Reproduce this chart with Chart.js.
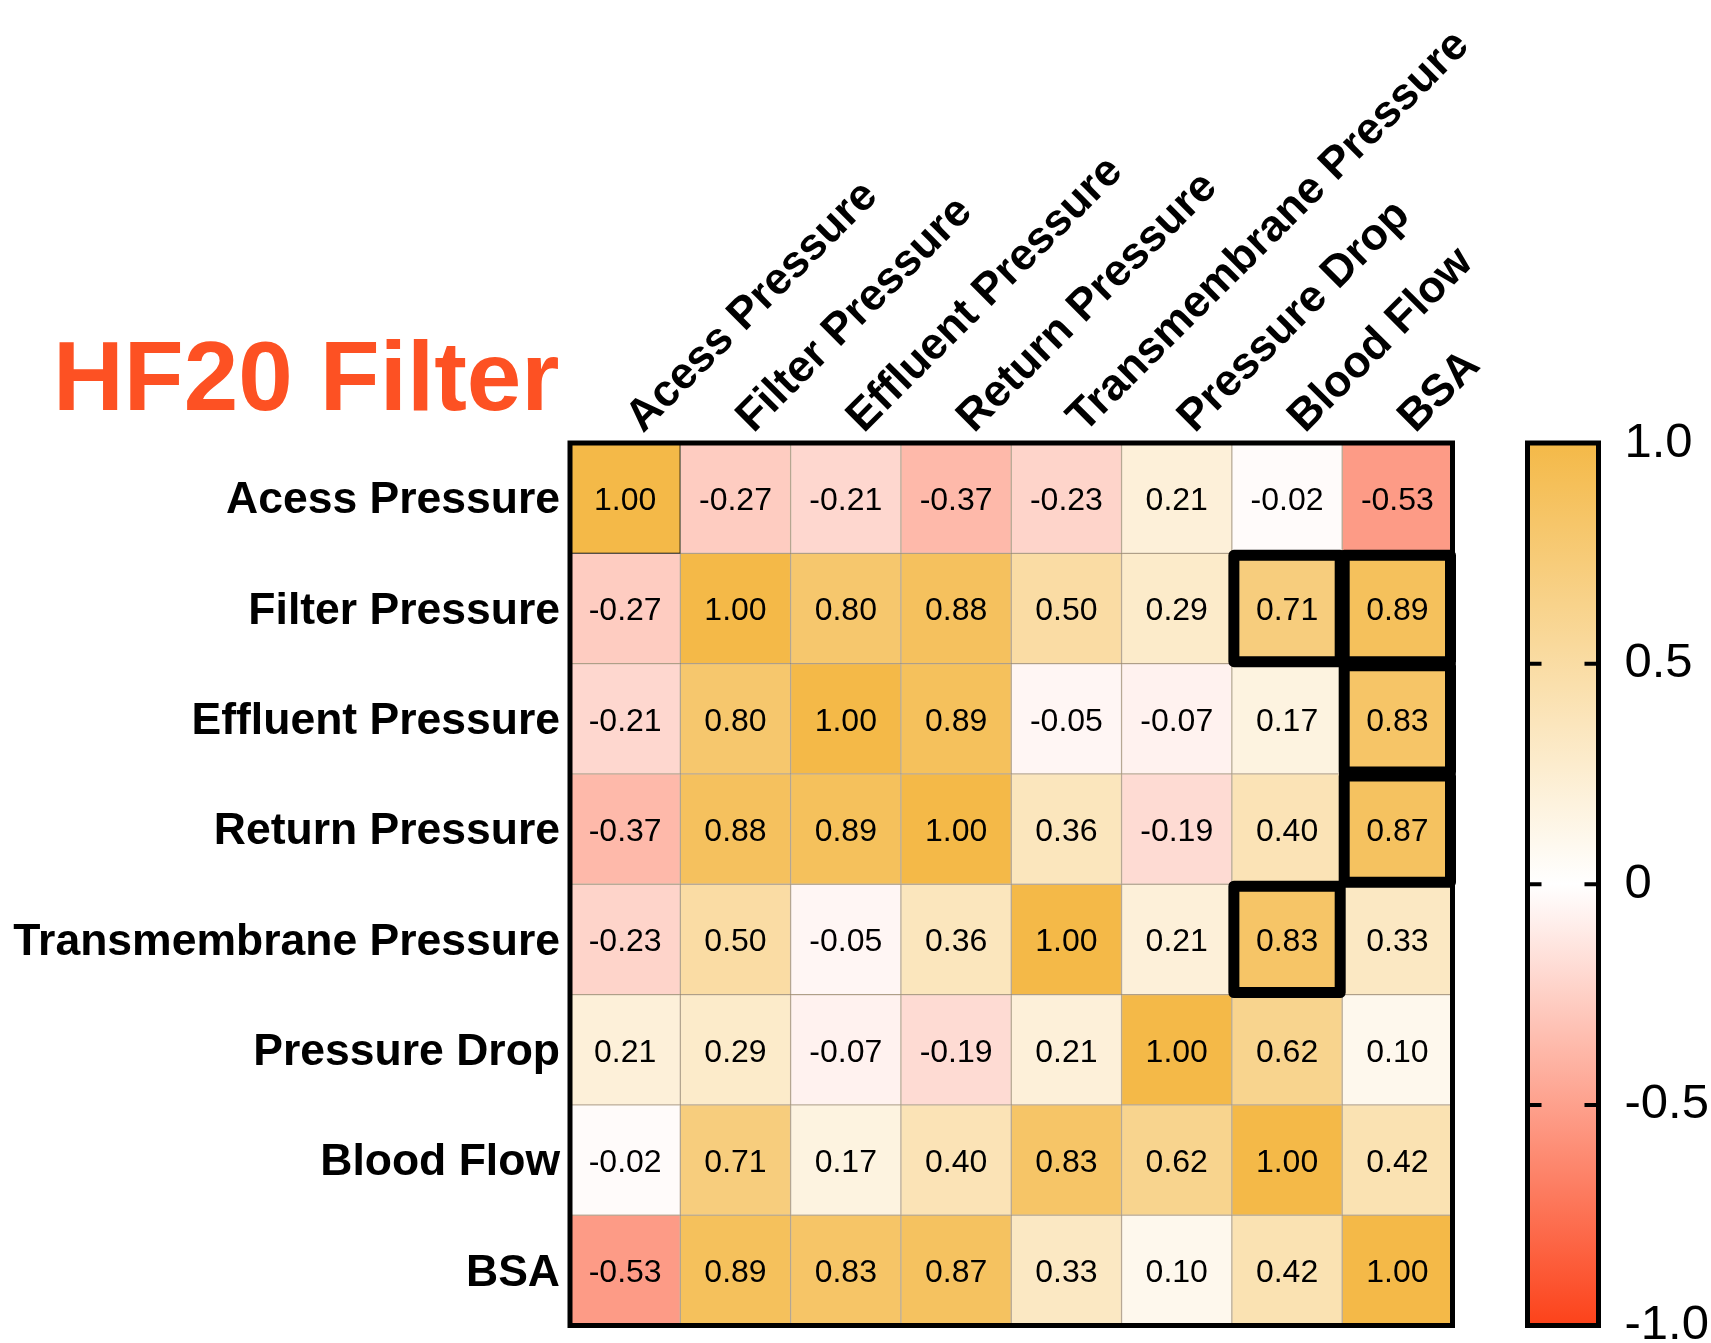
<!DOCTYPE html>
<html>
<head>
<meta charset="utf-8">
<script src="https://cdn.jsdelivr.net/npm/chart.js@4.4.1/dist/chart.umd.min.js"></script>
<style>
  html, body { margin: 0; padding: 0; background: #fff; overflow: hidden; width: 1711px; height: 1343px; }
  #title { position: absolute; left: 53px; top: 327px; font: bold 98px "Liberation Sans", Arial, sans-serif; line-height: 98px; color: #fd5123; white-space: nowrap; }
  #heat { position: absolute; left: 0; top: 0; }
  #bar { position: absolute; left: 1500px; top: 0; }
</style>
</head>
<body>
<div id="title">HF20 Filter</div>
<canvas id="heat" width="1711" height="1420"></canvas>
<canvas id="bar" width="211" height="1420"></canvas>
<script>
const variables = ['Acess Pressure', 'Filter Pressure', 'Effluent Pressure', 'Return Pressure',
  'Transmembrane Pressure', 'Pressure Drop', 'Blood Flow', 'BSA']

const rAcess     = [1.00, -0.27, -0.21, -0.37, -0.23, 0.21, -0.02, -0.53]
const rFilter    = [-0.27, 1.00, 0.80, 0.88, 0.50, 0.29, 0.71, 0.89]
const rEffluent  = [-0.21, 0.80, 1.00, 0.89, -0.05, -0.07, 0.17, 0.83]
const rReturn    = [-0.37, 0.88, 0.89, 1.00, 0.36, -0.19, 0.40, 0.87]
const rTmp       = [-0.23, 0.50, -0.05, 0.36, 1.00, 0.21, 0.83, 0.33]
const rDrop      = [0.21, 0.29, -0.07, -0.19, 0.21, 1.00, 0.62, 0.10]
const rBloodFlow = [-0.02, 0.71, 0.17, 0.40, 0.83, 0.62, 1.00, 0.42]
const rBsa       = [-0.53, 0.89, 0.83, 0.87, 0.33, 0.10, 0.42, 1.00]
const matrix = [rAcess, rFilter, rEffluent, rReturn, rTmp, rDrop, rBloodFlow, rBsa]

// [row, col] of the cells with the thick black frame
const highlightCells = [[1, 6], [1, 7], [2, 7], [3, 7], [4, 6]]

const colorbarTicks = [1, 0.5, 0, -0.5, -1]
const colorbarTickLabels = ['1.0', '0.5', '0', '-0.5', '-1.0']

const posRGB = [244, 185, 72]
const negRGB = [252, 66, 26]
const FONT = '"Liberation Sans", Arial, sans-serif'

const cellColor = (v) => {
  const end = v >= 0 ? posRGB : negRGB
  const t = Math.min(1, Math.abs(v))
  const c = end.map(e => Math.round(255 + (e - 255) * t))
  return `rgb(${c[0]},${c[1]},${c[2]})`
}

const datasets = matrix.map((row, r) => ({
  label: variables[r],
  data: row.map(() => [r - 0.5, r + 0.5]),
  values: row,
  backgroundColor: row.map(cellColor),
  borderColor: row.map((v, c) => (r === 0 && c === 0) ? '#000' : 'rgba(110,80,40,0.42)'),
  borderWidth: 1,
  borderSkipped: false,
  barPercentage: 1,
  categoryPercentage: 1,
  grouped: false
}))

const cellText = {
  id: 'cellText',
  afterDatasetsDraw(chart) {
    const ctx = chart.ctx
    ctx.save()
    ctx.font = '32px ' + FONT
    ctx.fillStyle = '#000'
    ctx.textAlign = 'center'
    ctx.textBaseline = 'middle'
    chart.data.datasets.forEach((ds, i) => {
      chart.getDatasetMeta(i).data.forEach((el, j) => {
        ctx.fillText(ds.values[j].toFixed(2), el.x, (el.y + el.base) / 2 + 3)
      })
    })
    ctx.restore()
  },
  afterDraw(chart) {
    const ctx = chart.ctx
    const a = chart.chartArea
    ctx.save()
    ctx.strokeStyle = '#000'
    ctx.lineWidth = 5
    ctx.strokeRect(a.left, a.top, a.right - a.left, a.bottom - a.top)
    ctx.lineWidth = 11
    ctx.lineJoin = 'round'
    highlightCells.forEach(([r, c]) => {
      const el = chart.getDatasetMeta(r).data[c]
      const top = Math.min(el.y, el.base), bottom = Math.max(el.y, el.base)
      const left = el.x - el.width / 2
      ctx.strokeRect(left + 2, top + 2, el.width - 4, bottom - top - 4)
    })
    ctx.restore()
  }
}

new Chart(document.getElementById('heat'), {
  type: 'bar',
  data: { labels: variables, datasets: datasets },
  options: {
    responsive: false,
    animation: false,
    events: [],
    layout: { padding: { left: 0, top: 0, right: 258.5, bottom: 94.5 } },
    plugins: { legend: { display: false }, tooltip: { enabled: false } },
    scales: {
      x: {
        position: 'top',
        grid: { display: false, drawTicks: false },
        border: { display: false },
        ticks: { autoSkip: false, minRotation: 45, maxRotation: 45, padding: -1, labelOffset: 47, color: '#000',
          font: { family: FONT, size: 44.5, weight: 'bold' } },
        afterFit(scale) { scale.height = 443 }
      },
      y: {
        min: -0.5,
        max: 7.5,
        reverse: true,
        grid: { display: false, drawTicks: false },
        border: { display: false },
        afterBuildTicks(scale) { scale.ticks = variables.map((_, i) => ({ value: i })) },
        ticks: { padding: 10, labelOffset: 3, color: '#000', font: { family: FONT, size: 44.5, weight: 'bold' },
          callback: (v) => variables[v] },
        afterFit(scale) { scale.width = 570 }
      }
    }
  },
  plugins: [cellText]
})

const colorbarFrame = {
  id: 'colorbarFrame',
  afterDraw(chart) {
    const ctx = chart.ctx
    const a = chart.chartArea
    const y = chart.scales.y
    ctx.save()
    ctx.strokeStyle = '#000'
    ctx.lineWidth = 4
    colorbarTicks.slice(1, -1).forEach(t => {
      const py = y.getPixelForValue(t)
      ctx.beginPath()
      ctx.moveTo(a.left, py); ctx.lineTo(a.left + 14, py)
      ctx.moveTo(a.right - 14, py); ctx.lineTo(a.right, py)
      ctx.stroke()
    })
    ctx.lineWidth = 5
    ctx.strokeRect(a.left, a.top, a.right - a.left, a.bottom - a.top)
    ctx.restore()
  }
}

new Chart(document.getElementById('bar'), {
  type: 'bar',
  data: {
    labels: [''],
    datasets: [{
      data: [[-1, 1]],
      barPercentage: 1,
      categoryPercentage: 1,
      borderWidth: 0,
      backgroundColor(ctx) {
        const a = ctx.chart.chartArea
        if (!a) return null
        const g = ctx.chart.ctx.createLinearGradient(0, a.top, 0, a.bottom)
        g.addColorStop(0, cellColor(1))
        g.addColorStop(0.5, '#fff')
        g.addColorStop(1, cellColor(-1))
        return g
      }
    }]
  },
  options: {
    responsive: false,
    animation: false,
    events: [],
    layout: { padding: { left: 27.5, top: 443, right: 0, bottom: 94.5 } },
    plugins: { legend: { display: false }, tooltip: { enabled: false } },
    scales: {
      x: { display: false },
      y: {
        position: 'right',
        min: -1,
        max: 1,
        grid: { display: false, drawTicks: false },
        border: { display: false },
        afterBuildTicks(scale) { scale.ticks = colorbarTicks.map(v => ({ value: v })) },
        ticks: { padding: 26, color: '#000', font: { family: FONT, size: 49 },
          callback: (v) => colorbarTickLabels[colorbarTicks.indexOf(v)] },
        afterFit(scale) { scale.width = 112.5 }
      }
    }
  },
  plugins: [colorbarFrame]
})
</script>
</body>
</html>
